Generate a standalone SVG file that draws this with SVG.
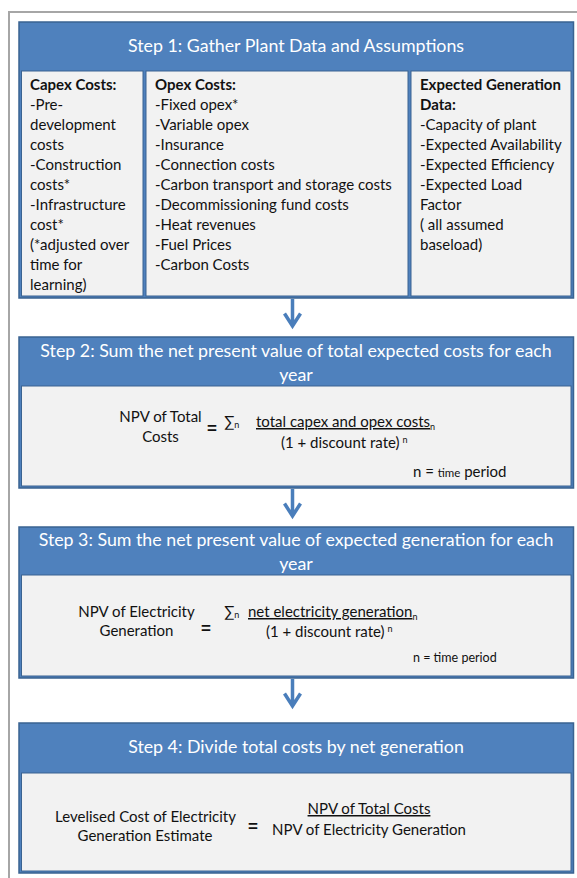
<svg xmlns="http://www.w3.org/2000/svg" width="577" height="878" viewBox="0 0 577 878">
<defs>
<style>
.frame{fill:#FFFFFF;stroke:#A6A6A6;stroke-width:2}
.box{fill:#4F81BD;stroke:#3A6391;stroke-width:1.5}
.cell{fill:#F2F2F2;stroke:#3A6391;stroke-width:1}
.hd{font-family:Lato,"Liberation Sans",sans-serif;font-size:17.8px;fill:#FFFFFF;text-anchor:middle}
.t{font-family:Lato,"Liberation Sans",sans-serif;font-size:15px;fill:#111111}
.b{font-weight:bold}
.c{text-anchor:middle}
.s{font-size:9px}
.sm{font-size:11.5px}
.st{font-size:12.5px}
.u{text-decoration:underline}
.eq{font-family:"Liberation Sans",sans-serif;font-weight:bold;font-size:17px;fill:#111111}
.conn{fill:none;stroke:#4A7EBB;stroke-width:3.5}
</style>
</defs>
<rect class="frame" x="9" y="12" width="600" height="900"/>

<g id="step1">
<rect class="box" x="19" y="22" width="554.5" height="276"/>
<text class="hd" x="296" y="52">Step 1: Gather Plant Data and Assumptions</text>
<rect class="cell" x="21.5" y="71" width="121.5" height="225"/>
<rect class="cell" x="146" y="71" width="262" height="225"/>
<rect class="cell" x="411" y="71" width="160" height="225"/>
<text class="t" x="30"><tspan class="b" x="30" y="90">Capex Costs:</tspan><tspan x="30" y="110">-Pre-</tspan><tspan x="30" y="130">development</tspan><tspan x="30" y="150">costs</tspan><tspan x="30" y="170">-Construction</tspan><tspan x="30" y="190">costs*</tspan><tspan x="30" y="210">-Infrastructure</tspan><tspan x="30" y="230">cost*</tspan><tspan x="30" y="250">(*adjusted over</tspan><tspan x="30" y="270">time for</tspan><tspan x="30" y="290">learning)</tspan></text>
<text class="t" x="155"><tspan class="b" x="155" y="90">Opex Costs:</tspan><tspan x="155" y="110">-Fixed opex*</tspan><tspan x="155" y="130">-Variable opex</tspan><tspan x="155" y="150">-Insurance</tspan><tspan x="155" y="170">-Connection costs</tspan><tspan x="155" y="190">-Carbon transport and storage costs</tspan><tspan x="155" y="210">-Decommissioning fund costs</tspan><tspan x="155" y="230">-Heat revenues</tspan><tspan x="155" y="250">-Fuel Prices</tspan><tspan x="155" y="270">-Carbon Costs</tspan></text>
<text class="t" x="420"><tspan class="b" x="420" y="90">Expected Generation</tspan><tspan class="b" x="420" y="110">Data:</tspan><tspan x="420" y="130">-Capacity of plant</tspan><tspan x="420" y="150">-Expected Availability</tspan><tspan x="420" y="170">-Expected Efficiency</tspan><tspan x="420" y="190">-Expected Load</tspan><tspan x="420" y="210">Factor</tspan><tspan x="420" y="230">( all assumed</tspan><tspan x="420" y="250">baseload)</tspan></text>
</g>

<g id="step2">
<rect class="box" x="19" y="337" width="554.5" height="151"/>
<text class="hd" x="296" y="357">Step 2: Sum the net present value of total expected costs for each</text>
<text class="hd" x="296" y="381">year</text>
<rect class="cell" x="21.5" y="386" width="549.5" height="100"/>
<text class="t c" x="160.5" y="422">NPV of Total</text>
<text class="t c" x="160.5" y="442">Costs</text>
<text class="eq" x="207" y="434">=</text>
<text class="t" x="224" y="427">∑<tspan class="s" dy="1">n</tspan></text>
<text class="t" x="256" y="427"><tspan class="u">total capex and opex costs</tspan><tspan class="s" dy="3">n</tspan></text>
<text class="t" x="281" y="448">(1 + discount rate)<tspan class="s" dx="3" dy="-5">n</tspan></text>
<text class="t" x="413" y="477">n = <tspan class="sm">time</tspan> period</text>
</g>

<g id="step3">
<rect class="box" x="19" y="527" width="554.5" height="151"/>
<text class="hd" x="296" y="546">Step 3: Sum the net present value of expected generation for each</text>
<text class="hd" x="296" y="570">year</text>
<rect class="cell" x="21.5" y="575" width="549.5" height="101"/>
<text class="t c" x="136.5" y="617">NPV of Electricity</text>
<text class="t c" x="136.5" y="636">Generation</text>
<text class="eq" x="201" y="634">=</text>
<text class="t" x="224" y="617">∑<tspan class="s" dy="1">n</tspan></text>
<text class="t" x="248" y="617"><tspan class="u">net electricity generation</tspan><tspan class="s" dy="3">n</tspan></text>
<text class="t" x="266" y="637">(1 + discount rate)<tspan class="s" dx="3" dy="-5">n</tspan></text>
<text class="t st" x="413" y="662">n = time period</text>
</g>

<g id="step4">
<rect class="box" x="19" y="723" width="554.5" height="150"/>
<text class="hd" x="296" y="753">Step 4: Divide total costs by net generation</text>
<rect class="cell" x="21.5" y="773" width="549.5" height="98"/>
<text class="t c" x="145.5" y="822">Levelised Cost of Electricity</text>
<text class="t c" x="145" y="841">Generation Estimate</text>
<text class="eq" x="248" y="832">=</text>
<text class="t c u" x="369" y="814">NPV of Total Costs</text>
<text class="t c" x="369" y="835">NPV of Electricity Generation</text>
</g>

<g id="connectors">
<path class="conn" d="M292.5 299V326M284.5 313.5L292.5 326L300.5 313.5"/>
<path class="conn" d="M292.5 489V516M284.5 503.5L292.5 516L300.5 503.5"/>
<path class="conn" d="M292.5 679V706M284.5 693.5L292.5 706L300.5 693.5"/>
</g>
</svg>
